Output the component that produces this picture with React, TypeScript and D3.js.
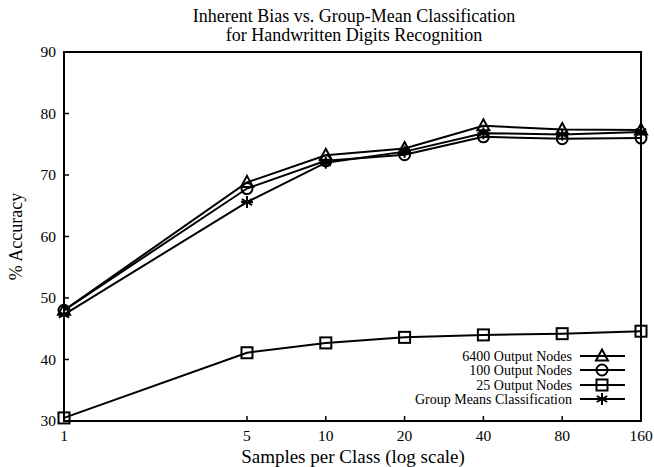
import React from 'react';
import * as d3 from 'd3';

const samples = [1, 5, 10, 20, 40, 80, 160];
const nodes6400 = [48.0, 68.8, 73.2, 74.3, 78.0, 77.4, 77.3];
const nodes100 = [48.0, 67.8, 72.3, 73.3, 76.2, 75.9, 76.0];
const nodes25 = [30.5, 41.1, 42.7, 43.6, 44.0, 44.2, 44.6];
const groupMeans = [47.3, 65.6, 72.0, 73.8, 76.8, 76.6, 77.0];
const yTicks = [30, 40, 50, 60, 70, 80, 90];

const seriesList = [
  { name: '6400 Output Nodes', values: nodes6400, marker: 'triangle' },
  { name: '100 Output Nodes', values: nodes100, marker: 'circle' },
  { name: '25 Output Nodes', values: nodes25, marker: 'square' },
  { name: 'Group Means Classification', values: groupMeans, marker: 'star' },
];

const font = "'Liberation Serif', 'Times New Roman', Times, serif";

function Marker({ kind, x, y }: { kind: string; x: number; y: number }) {
  const s = 5.5;
  const st = { fill: 'none', stroke: '#000', strokeWidth: 2 };
  if (kind === 'triangle') {
    return <path d={`M${x},${y - s - 1}L${x + s + 0.5},${y + s - 1}L${x - s - 0.5},${y + s - 1}Z`} {...st} />;
  }
  if (kind === 'circle') return <circle cx={x} cy={y} r={s} {...st} />;
  if (kind === 'square') return <rect x={x - s} y={y - s} width={2 * s} height={2 * s} {...st} />;
  // asterisk
  const r = 6;
  const d = [0, 60, 120].map((a) => {
    const t = (a * Math.PI) / 180;
    return `M${x - r * Math.sin(t)},${y - r * Math.cos(t)}L${x + r * Math.sin(t)},${y + r * Math.cos(t)}`;
  }).join('') + `M${x - r},${y}L${x + r},${y}`;
  return <path d={d} {...st} />;
}

export default function App() {
  const width = 654;
  const height = 467;
  const margin = { top: 52, right: 13, bottom: 46, left: 64 };
  const x = d3.scaleLog().domain([1, 160]).range([margin.left, width - margin.right]);
  const y = d3.scaleLinear().domain([30, 90]).range([height - margin.bottom, margin.top]);
  const line = d3.line<number>().x((_, i) => x(samples[i])).y((d) => y(d));

  const legendY = [356, 370, 385, 399];

  return (
    <svg width={width} height={height} style={{ position: 'absolute', left: 0, top: 0 }}>
      <rect width={width} height={height} fill="#fff" />
      <g fontFamily={font} fill="#000">
        <text x={354} y={22} textAnchor="middle" fontSize={18}>Inherent Bias vs. Group-Mean Classification</text>
        <text x={354} y={41} textAnchor="middle" fontSize={18}>for Handwritten Digits Recognition</text>

        {/* y axis ticks */}
        {yTicks.map((t) => (
          <g key={t}>
            <line x1={x(1)} x2={x(1) + 5} y1={y(t)} y2={y(t)} stroke="#000" strokeWidth={1.5} />
            <text x={56} y={y(t) + 5} textAnchor="end" fontSize={15.5}>{t}</text>
          </g>
        ))}
        {/* x axis ticks */}
        {samples.map((s) => (
          <g key={s}>
            <line x1={x(s)} x2={x(s)} y1={y(30)} y2={y(30) - 5} stroke="#000" strokeWidth={1.5} />
            <text x={x(s)} y={y(30) + 20} textAnchor="middle" fontSize={15.5}>{s}</text>
          </g>
        ))}

        <rect x={x(1)} y={y(90)} width={x(160) - x(1)} height={y(30) - y(90)} fill="none" stroke="#000" strokeWidth={2} />

        <text x={353} y={463} textAnchor="middle" fontSize={19}>Samples per Class (log scale)</text>
        <text transform={`translate(22,${y(60)}) rotate(-90)`} textAnchor="middle" fontSize={18}>% Accuracy</text>

        {seriesList.map((s) => (
          <g key={s.name}>
            <path d={line(s.values) || ''} fill="none" stroke="#000" strokeWidth={2} />
            {s.values.map((v, i) => (
              <Marker key={i} kind={s.marker} x={x(samples[i])} y={y(v)} />
            ))}
          </g>
        ))}

        {seriesList.map((s, i) => (
          <g key={s.name + 'leg'}>
            <text x={572} y={legendY[i] + 5} textAnchor="end" fontSize={14}>{s.name}</text>
            <line x1={580} x2={625} y1={legendY[i]} y2={legendY[i]} stroke="#000" strokeWidth={2} />
            <Marker kind={s.marker} x={602} y={legendY[i]} />
          </g>
        ))}
      </g>
    </svg>
  );
}
